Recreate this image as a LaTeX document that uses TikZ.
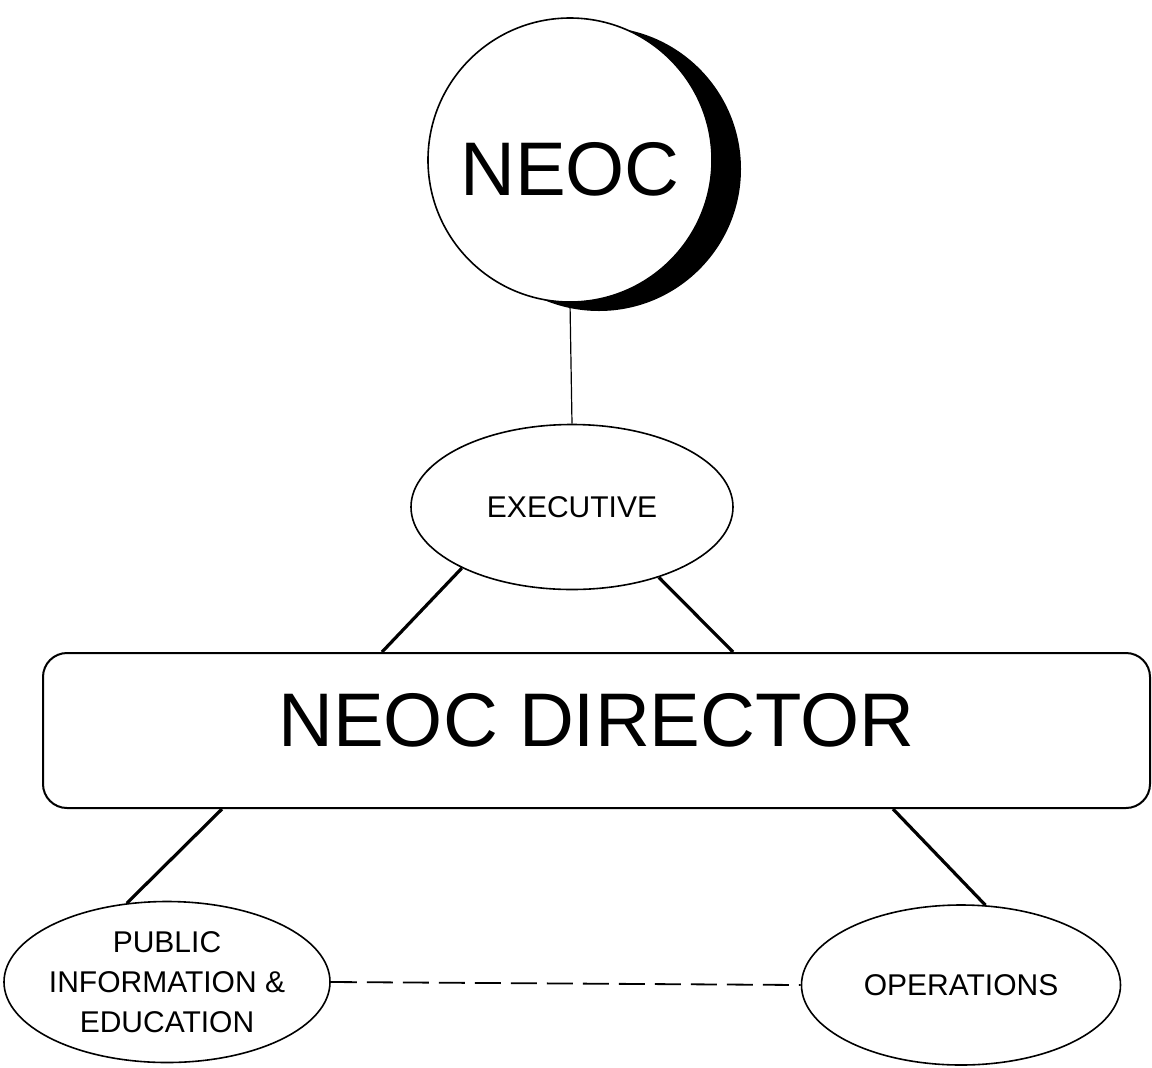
\documentclass[tikz,border=0pt]{standalone}
\usepackage{fontspec}
\setmainfont{Liberation Sans}
\usetikzlibrary{shapes.geometric}
\begin{document}
\begin{tikzpicture}[x=.5pt,y=-.5pt,
    office/.style={draw,ellipse,line width=.8pt,inner sep=0pt,font=\fontsize{15}{20}\selectfont},
    bigtext/.style={font=\fontsize{38}{38}\selectfont},
    link/.style={line width=1.6pt}]
  \useasboundingbox (0,0) rectangle (1152,1067);
  \node[circle,fill=black,minimum size=142pt] (neocshadow) at (599,169) {};
  \node[circle,draw,fill=white,line width=.8pt,minimum size=142pt,inner sep=0pt,bigtext,
        text height=36pt,text depth=.8pt] (neoc) at (570,160) {NEOC};
  \node[office,minimum width=161pt,minimum height=82.5pt] (exec) at (572,507) {EXECUTIVE};
  \node[draw,rounded corners=12pt,line width=1pt,minimum width=553.5pt,minimum height=77.5pt,
        bigtext,text height=27pt,text depth=10.8pt] (dir) at (596.5,730.5) {NEOC DIRECTOR};
  \node[office,minimum width=163pt,minimum height=80.5pt,
        label={[name=pubtext,align=center,font=\fontsize{15}{20}\selectfont]center:PUBLIC\\INFORMATION \&\\EDUCATION}]
        (pub) at (167,982) {};
  \node[office,minimum width=159.5pt,minimum height=80pt] (ops) at (961,985) {OPERATIONS};
  \draw[line width=.6pt] (neoc.south) -- (exec.north);
  \draw[link] (exec.209) -- (382,0 |- dir.north);
  \draw[link] (exec.-39) -- (733,0 |- dir.north);
  \draw[link] (222,0 |- dir.south) -- (pub.117);
  \draw[link] (893,0 |- dir.south) -- (ops.73);
  \draw[line width=.9pt,dash pattern=on 13pt off 5pt] (pub.east) -- (ops.west);
\end{tikzpicture}
\end{document}
